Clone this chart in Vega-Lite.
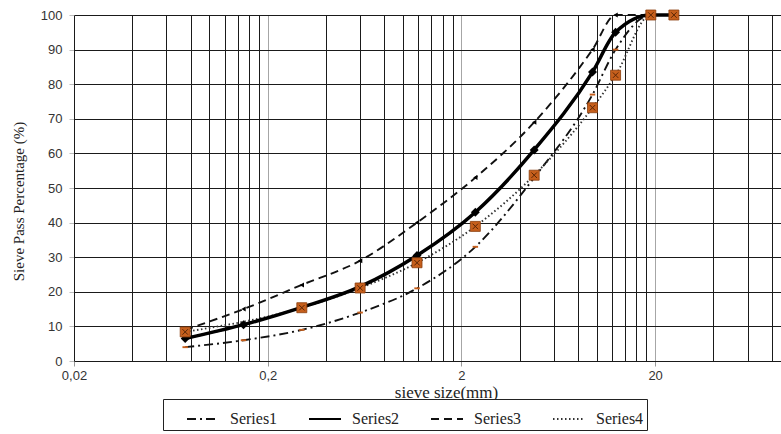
{
  "$schema": "https://vega.github.io/schema/vega-lite/v6.json",
  "width": 707,
  "height": 346,
  "autosize": {"type": "none"},
  "padding": {"left": 74, "top": 15, "right": 0, "bottom": 73},
  "background": "white",
  "config": {"view": {"stroke": null}, "legend": {"labelFont": "Liberation Serif", "labelFontSize": 16}},
  "data": {"values": [
    {"size": 0.075, "pct": 4, "series": "Series1"},
    {"size": 0.15, "pct": 6, "series": "Series1"},
    {"size": 0.3, "pct": 9, "series": "Series1"},
    {"size": 0.6, "pct": 14, "series": "Series1"},
    {"size": 1.18, "pct": 21, "series": "Series1"},
    {"size": 2.36, "pct": 33, "series": "Series1"},
    {"size": 4.75, "pct": 53, "series": "Series1"},
    {"size": 9.5, "pct": 77, "series": "Series1"},
    {"size": 12.5, "pct": 90, "series": "Series1"},
    {"size": 19, "pct": 100, "series": "Series1"},
    {"size": 25, "pct": 100, "series": "Series1"},
    {"size": 0.075, "pct": 6.5, "series": "Series2"},
    {"size": 0.15, "pct": 10.5, "series": "Series2"},
    {"size": 0.3, "pct": 15.5, "series": "Series2"},
    {"size": 0.6, "pct": 21.5, "series": "Series2"},
    {"size": 1.18, "pct": 30.5, "series": "Series2"},
    {"size": 2.36, "pct": 43, "series": "Series2"},
    {"size": 4.75, "pct": 61, "series": "Series2"},
    {"size": 9.5, "pct": 83.5, "series": "Series2"},
    {"size": 12.5, "pct": 95, "series": "Series2"},
    {"size": 19, "pct": 100, "series": "Series2"},
    {"size": 25, "pct": 100, "series": "Series2"},
    {"size": 0.075, "pct": 9, "series": "Series3"},
    {"size": 0.15, "pct": 15, "series": "Series3"},
    {"size": 0.3, "pct": 22, "series": "Series3"},
    {"size": 0.6, "pct": 29, "series": "Series3"},
    {"size": 1.18, "pct": 40, "series": "Series3"},
    {"size": 2.36, "pct": 53, "series": "Series3"},
    {"size": 4.75, "pct": 69, "series": "Series3"},
    {"size": 9.5, "pct": 90, "series": "Series3"},
    {"size": 12.5, "pct": 100, "series": "Series3"},
    {"size": 19, "pct": 100, "series": "Series3"},
    {"size": 25, "pct": 100, "series": "Series3"},
    {"size": 0.075, "pct": 8.4, "series": "Series4"},
    {"size": 0.3, "pct": 15.4, "series": "Series4"},
    {"size": 0.6, "pct": 21.1, "series": "Series4"},
    {"size": 1.18, "pct": 28.4, "series": "Series4"},
    {"size": 2.36, "pct": 38.9, "series": "Series4"},
    {"size": 4.75, "pct": 53.7, "series": "Series4"},
    {"size": 9.5, "pct": 73.2, "series": "Series4"},
    {"size": 12.5, "pct": 82.6, "series": "Series4"},
    {"size": 19, "pct": 100, "series": "Series4"},
    {"size": 25, "pct": 100, "series": "Series4"}
  ]},
  "encoding": {
    "x": {
      "field": "size", "type": "quantitative",
      "scale": {"type": "log", "domain": [0.02, 89.3], "nice": false, "zero": false},
      "axis": {
        "values": [0.02,0.04,0.06,0.08,0.1,0.12,0.14,0.16,0.18,0.2,0.4,0.6,0.8,1,1.2,1.4,1.6,1.8,2,4,6,8,10,12,14,16,18,20,40,60,80],
        "labelExpr": "indexof([0.02,0.2,2,20], datum.value) >= 0 ? replace(toString(datum.value), '.', ',') : ''",
        "labelOverlap": false,
        "labelBound": false,
        "labelFlush": false,
        "labelFont": "Liberation Sans",
        "labelFontSize": 13,
        "labelColor": "#333333",
        "labelPadding": 3,
        "tickSize": 5,
        "tickColor": {"condition": {"test": "indexof([0.02,0.2,2,20], datum.value) >= 0", "value": "#999999"}, "value": "transparent"},
        "grid": true,
        "gridColor": {"condition": {"test": "indexof([0.02,0.2,2,20], datum.value) >= 0", "value": "#a6a6a6"}, "value": "#1a1a1a"},
        "gridWidth": 1,
        "domainColor": "#1a1a1a",
        "title": "sieve size(mm)",
        "titleFont": "Liberation Serif",
        "titleFontSize": 17,
        "titleFontWeight": "normal",
        "titleColor": "#222222",
        "titleX": 372,
        "titleY": 36,
        "titleBaseline": "alphabetic",
        "titleAlign": "center"
      }
    },
    "y": {
      "field": "pct", "type": "quantitative",
      "scale": {"domain": [0, 100], "nice": false},
      "axis": {
        "values": [0,10,20,30,40,50,60,70,80,90,100],
        "labelFont": "Liberation Sans",
        "labelFontSize": 13,
        "labelColor": "#333333",
        "labelPadding": 7,
        "tickSize": 5,
        "tickColor": "#bbbbbb",
        "grid": true,
        "gridColor": "#1a1a1a",
        "gridWidth": 1,
        "domainColor": "#1a1a1a",
        "title": "Sieve Pass Percentage (%)",
        "titleFont": "Liberation Serif",
        "titleFontSize": 15,
        "titleFontWeight": "normal",
        "titleColor": "#222222",
        "titleAngle": 270,
        "titleX": -56,
        "titleY": 186,
        "titleAlign": "center",
        "titleBaseline": "middle"
      }
    }
  },
  "layer": [
    {
      "mark": {"type": "line", "interpolate": "monotone", "strokeWidth": 1.9},
      "encoding": {
        "color": {
          "field": "series", "type": "nominal",
          "scale": {"domain": ["Series1","Series2","Series3","Series4"], "range": ["#111111","#000000","#111111","#333333"]},
          "legend": {
            "title": null,
            "orient": "none",
            "legendX": 89,
            "legendY": 384,
            "direction": "horizontal",
            "strokeColor": "#222222",
            "fillColor": "white",
            "padding": 3,
            "symbolType": "stroke",
            "symbolSize": 1024,
            "symbolOffset": 20,
            "symbolStrokeWidth": 2,
            "labelFont": "Liberation Serif",
            "labelFontSize": 16,
            "labelColor": "#222222",
            "labelOffset": 10,
            "columnPadding": 10
          }
        },
        "strokeDash": {
          "field": "series", "type": "nominal",
          "scale": {"domain": ["Series1","Series2","Series3","Series4"], "range": [[9,4,2,4],[1,0],[8,5],[1.5,2.5]]}
        }
      }
    },
    {
      "transform": [{"filter": "datum.series == 'Series2'"}],
      "mark": {"type": "line", "interpolate": "monotone", "strokeWidth": 3.5, "color": "#000000"},
      "encoding": {}
    },
    {
      "transform": [{"filter": "datum.series == 'Series1'"}],
      "mark": {"type": "point", "shape": "M-1,-0.35H1V0.35H-1Z", "filled": true, "size": 30, "color": "#c65f1c", "opacity": 1}
    },
    {
      "transform": [{"filter": "datum.series == 'Series2'"}],
      "mark": {"type": "point", "shape": "diamond", "filled": true, "size": 80, "color": "#000000", "opacity": 1}
    },
    {
      "transform": [{"filter": "datum.series == 'Series3'"}],
      "mark": {"type": "point", "shape": "triangle-left", "filled": true, "size": 25, "color": "#000000", "opacity": 1}
    },
    {
      "transform": [{"filter": "datum.series == 'Series4'"}],
      "mark": {"type": "point", "shape": "square", "filled": true, "size": 100, "fill": "#c65f1c", "stroke": "#8a3d0c", "strokeWidth": 0.8, "opacity": 1}
    },
    {
      "transform": [{"filter": "datum.series == 'Series4'"}],
      "mark": {"type": "point", "shape": "M-0.55,-0.55L0.55,0.55M0.55,-0.55L-0.55,0.55", "filled": false, "size": 100, "stroke": "#5a2606", "strokeWidth": 1, "opacity": 1}
    }
  ]
}
